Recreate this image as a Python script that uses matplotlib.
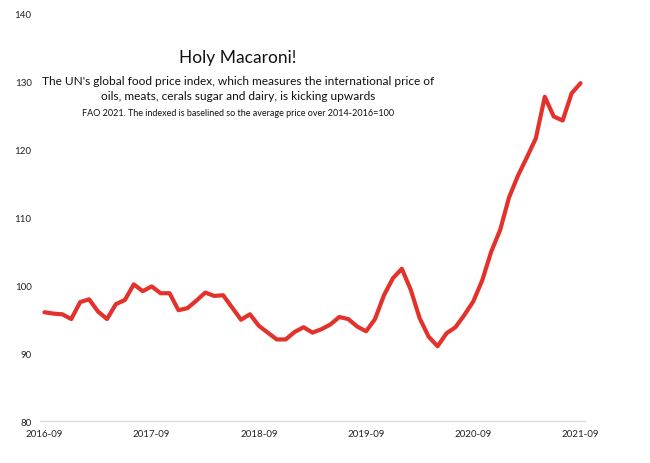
import matplotlib
matplotlib.use("Agg")
import matplotlib.pyplot as plt

# FAO food price index, monthly 2016-09 .. 2021-09
months = ["2016-09", "2016-10", "2016-11", "2016-12",
          "2017-01", "2017-02", "2017-03", "2017-04", "2017-05", "2017-06",
          "2017-07", "2017-08", "2017-09", "2017-10", "2017-11", "2017-12",
          "2018-01", "2018-02", "2018-03", "2018-04", "2018-05", "2018-06",
          "2018-07", "2018-08", "2018-09", "2018-10", "2018-11", "2018-12",
          "2019-01", "2019-02", "2019-03", "2019-04", "2019-05", "2019-06",
          "2019-07", "2019-08", "2019-09", "2019-10", "2019-11", "2019-12",
          "2020-01", "2020-02", "2020-03", "2020-04", "2020-05", "2020-06",
          "2020-07", "2020-08", "2020-09", "2020-10", "2020-11", "2020-12",
          "2021-01", "2021-02", "2021-03", "2021-04", "2021-05", "2021-06",
          "2021-07", "2021-08", "2021-09"]
index = [96.0, 95.8, 95.7, 95.0,
         97.5, 97.9, 96.1, 95.0, 97.2, 97.8,
         100.1, 99.1, 99.8, 98.8, 98.8, 96.3,
         96.6, 97.7, 98.9, 98.4, 98.5, 96.7,
         94.9, 95.7, 94.0, 93.0, 92.0, 92.0,
         93.1, 93.8, 93.0, 93.5, 94.2, 95.3,
         95.0, 93.9, 93.2, 95.0, 98.5, 101.0,
         102.4, 99.3, 95.1, 92.4, 91.0, 92.9,
         93.8, 95.6, 97.6, 100.7, 104.9, 108.1,
         112.9, 116.1, 118.8, 121.6, 127.7, 124.8,
         124.2, 128.2, 129.7]
tick_labels = ["2016-09", "2017-09", "2018-09", "2019-09", "2020-09", "2021-09"]
y_ticks = [80, 90, 100, 110, 120, 130, 140]

plt.rcParams['font.family'] = ['Lato', 'DejaVu Sans']

fig = plt.figure(figsize=(6.5, 4.64), dpi=100)
ax = fig.add_axes([0.0615, 0.0905, 0.8385, 0.879])

x = list(range(len(months)))
ax.plot(x, index, color="#e2322b", linewidth=3, solid_joinstyle="round",
        solid_capstyle="round")

ax.set_xlim(-0.5, 60.5)
ax.set_ylim(80, 140)
ax.set_xticks([months.index(m) for m in tick_labels])
ax.set_xticklabels(tick_labels)
ax.set_yticks(y_ticks)
ax.tick_params(length=0, labelsize=7, colors="#222222")
ax.tick_params(axis="x", pad=6)
ax.tick_params(axis="y", pad=6)

for side in ["left", "right", "top"]:
    ax.spines[side].set_visible(False)
ax.spines["bottom"].set_color("#dddddd")
ax.spines["bottom"].set_linewidth(1)

cx = 238 / 650
fig.text(cx, 1 - 58 / 464, "Holy Macaroni!", ha="center", va="center",
         fontsize=12.5, color="#111111")
fig.text(cx, 1 - 89 / 464,
         "The UN's global food price index, which measures the international price of\n"
         "oils, meats, cerals sugar and dairy, is kicking upwards",
         ha="center", va="center", fontsize=8.6, color="#111111", linespacing=1.45)
fig.text(cx, 1 - 113 / 464,
         "FAO 2021. The indexed is baselined so the average price over 2014-2016=100",
         ha="center", va="center", fontsize=6.5, color="#111111")

fig.savefig("out.png", dpi=100)
